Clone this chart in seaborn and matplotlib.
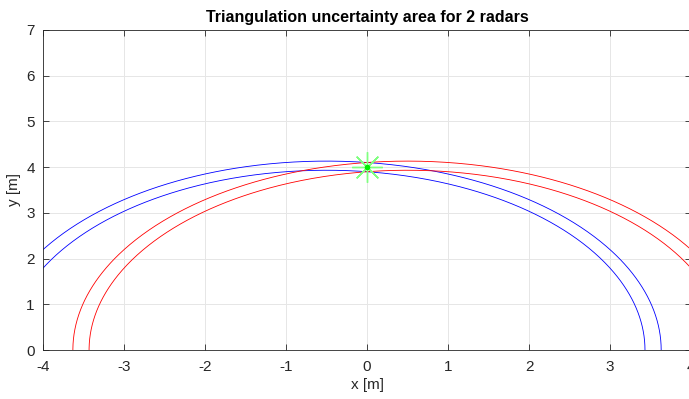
import numpy as np
import pandas as pd
import matplotlib
matplotlib.use("Agg")
import matplotlib.pyplot as plt
import seaborn as sns

# Scenario values
radar_x = [-0.5, 0.5]          # radar positions on the x axis [m]
radar_colors = ["blue", "red"]
target = (0.0, 4.0)            # target position [m]
range_err = 0.1                # range uncertainty [m]
x_ticks = [-4, -3, -2, -1, 0, 1, 2, 3, 4]
y_ticks = [0, 1, 2, 3, 4, 5, 6, 7]

sns.set_style("white")
plt.rcParams["font.family"] = ["Liberation Sans", "DejaVu Sans"]
plt.rcParams["axes.unicode_minus"] = False

fig = plt.figure(figsize=(6.89, 3.99), dpi=100)
ax = fig.add_axes([0.0624, 0.1228, 0.9406, 0.8022])

theta = np.linspace(0, np.pi, 600)
rows = []
for rx, col in zip(radar_x, radar_colors):
    r0 = np.hypot(target[0] - rx, target[1])
    for k, r in enumerate([r0 - range_err, r0 + range_err]):
        for t in theta:
            rows.append({"x": rx + r * np.cos(t), "y": r * np.sin(t),
                         "arc": f"{col}{k}", "col": col})
df = pd.DataFrame(rows)
for name, g in df.groupby("arc"):
    sns.lineplot(data=g, x="x", y="y", sort=False, estimator=None,
                 color=g["col"].iloc[0], linewidth=0.6, ax=ax, legend=False)

ax.plot([target[0]], [target[1]], marker=(8, 2, 0), markersize=22,
        color="#80ff80", markeredgecolor="#80ff80", markerfacecolor="#80ff80",
        markeredgewidth=1.0, linestyle="none", zorder=5)
ax.plot([target[0]], [target[1]], marker="o", markersize=3,
        color="#00ee00", markeredgecolor="#00ee00", linestyle="none", zorder=6)

ax.set_xlim(-4, 4)
ax.set_ylim(0, 7)
ax.set_xticks(x_ticks)
ax.set_yticks(y_ticks)
ax.grid(True, color="#e6e6e6", linewidth=0.7)
ax.set_axisbelow(True)
for s in ax.spines.values():
    s.set_color("#262626")
    s.set_linewidth(0.6)
ax.tick_params(direction="in", length=4, width=0.6, colors="#262626",
               labelsize=11, top=True, right=True, bottom=True, left=True)
ax.tick_params(axis="x", pad=7)
ax.tick_params(axis="y", pad=6)
ax.set_xlabel("x [m]", fontsize=11, color="#262626", labelpad=3)
ax.set_ylabel("y [m]", fontsize=11, color="#262626", labelpad=4)
ax.set_title("Triangulation uncertainty area for 2 radars", fontsize=11.5,
             fontweight="bold", color="black", pad=6)

fig.savefig("out.png", dpi=100)
